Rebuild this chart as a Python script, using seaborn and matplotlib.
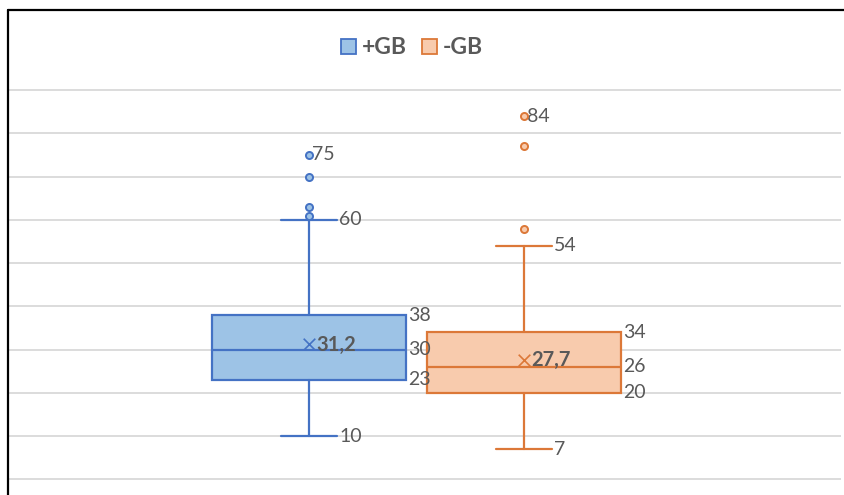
import numpy as np
import pandas as pd
import matplotlib
matplotlib.use("Agg")
import matplotlib.pyplot as plt
import seaborn as sns
from matplotlib.patches import Patch
from matplotlib.lines import Line2D

# Box statistics
groups = ["+GB", "-GB"]
q1 = [23, 20]
medians = [30, 26]
q3 = [38, 34]
whisker_low = [10, 7]
whisker_high = [60, 54]
means = [31.2, 27.7]
outliers_plus = [75, 70, 63, 61]
outliers_minus = [84, 77, 58]

fills = ["#9DC3E6", "#F8CBAD"]
edges = ["#4472C4", "#DC7838"]
text_color = "#595959"

sns.set_style("white")
plt.rcParams["font.family"] = ["Lato", "DejaVu Sans"]

fig = plt.figure(figsize=(8.44, 4.95), dpi=100)
# axes placed in pixel terms: x 8..841, y 15..495
ax = fig.add_axes([8 / 844, 0, 833 / 844, 480 / 495])

px = 4.325  # pixels per unit on y
ax.set_ylim(-(495 - 479.5) / px, 90 + (90 - 15) / px)
ax.set_xlim(-1.4, 2.474)
ax.set_yticks(np.arange(0, 100, 10))
ax.yaxis.grid(True, color="#D9D9D9", linewidth=1.3)
ax.set_axisbelow(True)
ax.tick_params(left=False, bottom=False, labelleft=False, labelbottom=False)
sns.despine(ax=ax, left=True, bottom=True, top=True, right=True)

outliers = [outliers_plus, outliers_minus]
positions = [0, 1]

for i, pos in enumerate(positions):
    stats = [{
        "q1": q1[i], "med": medians[i], "q3": q3[i],
        "whislo": whisker_low[i], "whishi": whisker_high[i],
        "fliers": [], "label": groups[i],
    }]
    ax.bxp(stats, positions=[pos], widths=0.9, capwidths=0.26,
           showfliers=False, patch_artist=True,
           boxprops=dict(facecolor=fills[i], edgecolor=edges[i], linewidth=1.6),
           medianprops=dict(color=edges[i], linewidth=1.6),
           whiskerprops=dict(color=edges[i], linewidth=1.6),
           capprops=dict(color=edges[i], linewidth=1.6))

    df = pd.DataFrame({"x": [pos] * len(outliers[i]), "y": outliers[i]})
    sns.scatterplot(data=df, x="x", y="y", ax=ax, s=26, color=fills[i],
                    edgecolor=edges[i], linewidth=1.4, zorder=4)

    ax.scatter([pos], [means[i]], marker="x", s=70, color=edges[i],
               linewidth=1.2, zorder=5)
    ax.annotate(f"{means[i]:.1f}".replace(".", ","), (pos, means[i]),
                xytext=(5.5, 0), textcoords="offset points", va="center",
                ha="left", fontsize=14.5, fontweight="bold", color=text_color)

    # quartile labels to the right of the box
    for v in [q1[i], medians[i], q3[i]]:
        ax.annotate(str(v), (pos + 0.45, v), xytext=(1.5, 0),
                    textcoords="offset points", va="center", ha="left",
                    fontsize=14, color=text_color)
    # whisker labels right of the caps
    for v in [whisker_low[i], whisker_high[i]]:
        ax.annotate(str(v), (pos + 0.13, v), xytext=(1.5, 0),
                    textcoords="offset points", va="center", ha="left",
                    fontsize=14, color=text_color)
    # label the highest outlier
    top = max(outliers[i])
    ax.annotate(str(top), (pos, top), xytext=(2, 0),
                textcoords="offset points", va="center", ha="left",
                fontsize=14, color=text_color)

handles = [Patch(facecolor=fills[i], edgecolor=edges[i], linewidth=1.3,
                 label=groups[i]) for i in range(2)]
leg = fig.legend(handles=handles, loc="center", bbox_to_anchor=(412 / 844, 1 - 48 / 495),
                 ncol=2, frameon=False, handlelength=0.65, handleheight=0.65,
                 handletextpad=0.25, columnspacing=0.7,
                 prop={"size": 16.5, "weight": "bold"})
for t in leg.get_texts():
    t.set_color(text_color)

# chart border (left and top edges, the rest is cropped)
fig.add_artist(Line2D([7.5 / 844, 7.5 / 844], [0, 1 - 10 / 495], color="black",
                      linewidth=1.6, transform=fig.transFigure))
fig.add_artist(Line2D([7.5 / 844, 1], [1 - 10 / 495, 1 - 10 / 495], color="black",
                      linewidth=1.6, transform=fig.transFigure))

fig.savefig("out.png", dpi=100)
